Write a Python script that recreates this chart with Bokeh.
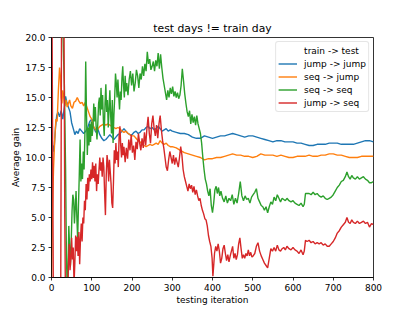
from bokeh.plotting import figure
from bokeh.models import Legend, LegendItem, FixedTicker, NumeralTickFormatter, Range1d
from bokeh.embed import file_html
from bokeh.resources import INLINE

title_text = "test days != train day"
x_label = "testing iteration"
y_label = "Average gain"
legend_title_entry = "train -> test"
series_names = ["jump -> jump", "seq -> jump", "seq -> seq", "jump -> seq"]
series_colors = ["#1f77b4", "#ff7f0e", "#2ca02c", "#d62728"]
x_ticks = [0, 100, 200, 300, 400, 500, 600, 700, 800]
y_ticks = [0.0, 2.5, 5.0, 7.5, 10.0, 12.5, 15.0, 17.5, 20.0]

# jump -> jump
jj_x = [0, 3, 6, 10, 13, 16, 20, 24, 28, 32, 35, 38, 42, 46, 50, 55, 58, 62, 66, 70, 75, 80, 85, 90, 95,
        100, 105, 110, 115, 120, 125, 130, 135, 140, 145, 150, 155, 160, 165, 170, 175, 180, 185, 190, 195,
        200, 205, 210, 215, 220, 225, 230, 235, 240, 245, 250, 255, 260, 265, 270, 275, 280, 285, 290, 295,
        300, 310, 320, 330, 340, 350, 360, 370, 380, 390, 400, 410, 420, 430, 440, 450, 460, 470, 480, 490,
        500, 510, 520, 530, 540, 550, 560, 570, 580, 590, 600, 610, 620, 630, 640, 650, 660, 670, 680, 690,
        700, 710, 720, 730, 740, 750, 760, 770, 780, 790, 800]
jj_y = [5.0, 11.0, 10.5, 12.5, 13.5, 13.8, 13.4, 13.9, 13.2, 14.2, 15.1, 14.6, 14.2, 13.8, 12.9, 12.3, 11.9, 12.2, 12.0, 12.4, 12.2, 12.0, 12.2, 12.5, 13.0,
        13.2, 12.5, 12.1, 12.4, 11.9, 11.6, 11.4, 11.5, 11.7, 11.9, 11.7, 11.5, 11.7, 11.9, 12.0, 12.2, 12.4, 12.2, 12.0, 11.9,
        11.9, 12.1, 12.2, 12.0, 12.1, 12.3, 12.3, 12.5, 12.6, 12.4, 12.5, 12.3, 12.4, 12.6, 12.4, 12.2, 12.3, 12.4, 12.2, 12.3,
        12.2, 12.1, 12.0, 12.0, 11.9, 11.7, 11.6, 11.6, 11.8, 11.7, 11.6, 11.7, 11.8, 11.8, 11.9, 12.0, 11.9, 11.8, 11.7, 11.8,
        11.8, 11.7, 11.6, 11.5, 11.4, 11.3, 11.4, 11.4, 11.3, 11.3, 11.3, 11.2, 11.2, 11.1, 11.0, 11.0, 11.1, 11.1, 11.1, 11.2,
        11.2, 11.2, 11.1, 11.1, 11.1, 11.1, 11.2, 11.3, 11.4, 11.4, 11.3]

# seq -> jump
sj_x = [0, 2, 5, 8, 11, 14, 17, 20, 22, 24, 26, 28, 30, 33, 36, 39, 42, 45, 48, 52, 56, 60, 64, 68, 72, 76, 80, 84, 88, 92, 96,
        100, 104, 108, 112, 116, 120, 125, 130, 135, 140, 145, 150, 155, 160, 165, 170, 175, 180, 185, 190, 195,
        200, 205, 210, 215, 220, 225, 230, 235, 240, 245, 250, 255, 260, 265, 270, 275, 280, 285, 290, 295,
        300, 310, 320, 330, 340, 350, 360, 370, 380, 390, 400, 410, 420, 430, 440, 450, 460, 470, 480, 490,
        500, 510, 520, 530, 540, 550, 560, 570, 580, 590, 600, 610, 620, 630, 640, 650, 660, 670, 680, 690,
        700, 710, 720, 730, 740, 750, 760, 770, 780, 790, 800]
sj_y = [0.0, 5.0, 9.0, 11.5, 13.2, 13.0, 15.5, 17.5, 16.8, 15.0, 14.5, 15.6, 15.2, 14.3, 14.8, 14.2, 14.5, 14.8, 14.3, 14.1, 14.6, 14.7, 15.0, 14.7, 14.5, 14.6, 14.3, 14.6, 14.2, 13.8, 13.4,
        13.2, 12.6, 12.4, 12.2, 12.4, 12.6, 12.7, 12.8, 12.7, 12.8, 12.7, 12.6, 12.5, 12.4, 12.5, 12.4, 12.2, 12.1, 12.2, 12.0, 11.9,
        11.8, 11.8, 11.6, 11.4, 11.3, 11.1, 11.0, 10.9, 11.0, 11.1, 11.0, 11.1, 11.2, 11.1, 11.4, 11.2, 11.1, 11.2, 11.0, 10.9,
        10.9, 10.8, 10.6, 10.4, 10.3, 10.2, 10.1, 10.0, 9.8, 9.9, 9.9, 10.0, 10.0, 10.1, 10.2, 10.3, 10.2, 10.2, 10.1, 10.1,
        10.0, 10.1, 10.3, 10.2, 10.2, 10.2, 10.1, 10.2, 10.1, 10.0, 10.0, 10.1, 10.1, 10.1, 10.2, 10.1, 10.1, 10.2, 10.2, 10.3,
        10.3, 10.2, 10.2, 10.1, 10.0, 10.0, 10.0, 10.1, 10.1, 10.1, 10.1]

# seq -> seq
ss_x = [0, 25, 30, 32, 35, 37, 39, 41, 43, 45, 47, 49, 51, 53, 55, 57, 59, 61, 63, 65, 67, 69, 71, 73, 75, 77, 79, 81, 83, 85, 87, 89,
        91, 93, 95, 97, 99, 101, 103, 105, 107, 109, 111, 113, 115, 117, 119, 121, 123, 125, 127, 129, 131, 133, 135, 137, 139,
        141, 143, 145, 147, 149, 151, 153, 155, 157, 159, 161, 163, 165, 167, 169, 171, 173, 175, 177, 179, 181, 183, 185, 187,
        190, 193, 196, 199, 202, 205, 208, 211, 214, 217, 220, 223, 226, 229, 232, 235, 238, 241, 244, 247, 250, 253, 256, 259,
        262, 265, 268, 271, 274, 277, 280, 283, 286, 289, 292, 295, 298, 301, 304, 307, 310, 313, 316, 319, 322, 325, 328, 331,
        334, 337, 340, 343, 346, 349, 352, 355, 358, 361, 364, 367, 370, 373, 376, 379, 382, 385, 388, 391, 394, 397, 400, 403,
        406, 409, 412, 415, 418, 421, 425, 429, 433, 437, 441, 445, 449, 453, 457, 461, 465, 469, 473, 477, 481, 485, 489, 493,
        497, 501, 505, 509, 513, 517, 521, 525, 529, 533, 537, 541, 545, 549, 553, 557, 561, 565, 569, 573, 577, 581, 585, 590,
        595, 600, 605, 610, 615, 620, 625, 628, 631, 635, 640, 645, 650, 655, 660, 665, 670, 675, 680, 685, 690, 695, 700, 705,
        710, 715, 720, 725, 730, 734, 738, 742, 746, 750, 755, 760, 765, 770, 775, 780, 785, 790, 795, 800]
ss_y = [30.0, 26.0, 18.2, 16.0, 9.0, 2.0, -1.0, 0.5, 4.3, 2.5, 1.0, 3.0, 5.5, 6.9, 6.5, 4.5, 5.8, 7.2, 5.0, 3.2, 6.0, 8.5, 11.5, 8.0, 9.5, 8.2, 10.5, 9.0, 12.0, 18.0, 13.5, 10.2,
        12.5, 11.0, 12.8, 11.3, 13.0, 11.8, 12.5, 14.5, 13.0, 14.2, 12.5, 11.5, 12.8, 14.5, 15.0, 13.5, 15.8, 14.0, 15.2, 13.0, 11.8, 14.5, 16.1, 13.8, 14.8,
        12.5, 14.0, 15.6, 13.5, 12.0, 14.8, 11.2, 13.5, 15.0, 17.0, 16.2, 15.0, 16.5, 15.2, 14.0, 15.5, 14.8, 16.6, 17.6, 16.0, 15.0, 16.8, 15.5, 16.2,
        15.2, 16.5, 17.2, 16.0, 17.0, 15.5, 16.2, 17.3, 16.8, 15.8, 17.0, 16.5, 17.6, 16.8, 17.8, 17.2, 18.8, 17.8, 18.2, 17.3, 17.6, 18.0, 17.2, 18.1,
        17.6, 18.7, 17.4, 18.6, 17.5, 16.6, 16.0, 15.4, 14.8, 15.6, 15.0, 15.8, 15.3, 15.9, 15.1, 15.5, 15.0, 15.4, 14.9, 15.2, 16.0, 17.4, 16.4, 15.3,
        14.5, 13.8, 13.4, 13.9, 12.8, 13.6, 12.9, 13.4, 12.7, 13.5, 12.8, 12.4, 12.0, 11.2, 10.0, 9.0, 8.2, 7.8, 7.2, 6.8, 7.4, 6.0, 5.4, 6.2,
        7.3, 7.6, 7.0, 7.5, 6.8, 7.2, 6.6, 6.3, 6.8, 6.2, 6.6, 6.4, 6.9, 6.1, 6.6, 6.2, 7.0, 8.0, 6.8, 6.4, 6.8, 6.5, 6.6, 6.2,
        6.7, 6.9, 7.1, 7.4, 6.6, 6.3, 6.0, 5.9, 5.6, 5.9, 5.4, 5.9, 6.3, 6.1, 6.7, 6.4, 6.9, 6.6, 6.3, 6.6, 6.5, 6.4, 6.6, 6.4,
        6.3, 6.4, 6.2, 6.1, 6.0, 6.2, 5.9, 6.1, 7.0, 7.0, 7.0, 6.9, 7.1, 6.9, 7.0, 6.8, 6.7, 6.8, 6.6, 6.5, 6.6, 6.7, 6.9, 7.2,
        7.5, 7.7, 8.0, 8.1, 8.4, 8.8, 8.4, 8.2, 8.5, 8.3, 8.2, 8.4, 8.2, 8.3, 8.4, 8.2, 8.1, 7.9, 7.9, 8.0]

# jump -> seq
js_x = [0, 3, 5, 20, 23, 25, 28, 31, 33, 35, 38, 40, 42, 44, 46, 48, 50, 52, 54, 56, 58, 60, 62, 64, 66, 68, 70, 72, 74, 76, 78, 80,
        82, 84, 86, 88, 90, 92, 94, 96, 98, 100, 102, 104, 106, 108, 110, 112, 114, 116, 118, 120, 122, 124, 126, 128, 130,
        132, 134, 136, 138, 140, 142, 144, 146, 148, 150, 152, 154, 156, 158, 160, 162, 164, 166, 168, 170, 172, 174, 176, 178,
        180, 183, 186, 189, 192, 195, 198, 201, 204, 207, 210, 213, 216, 219, 222, 225, 228, 231, 234, 237, 240, 243, 246, 249,
        252, 255, 258, 261, 264, 267, 270, 273, 276, 279, 282, 285, 288, 291, 294, 297, 300, 303, 306, 309, 312, 315, 318, 321,
        324, 327, 330, 333, 336, 339, 342, 345, 348, 351, 354, 357, 360, 363, 366, 369, 372, 375, 378, 381, 384, 387, 390, 393,
        396, 399, 401, 403, 405, 408, 411, 414, 417, 420, 423, 426, 429, 432, 435, 438, 441, 444, 447, 450, 453, 456, 459, 462,
        465, 468, 471, 474, 477, 480, 483, 486, 489, 492, 495, 498, 501, 505, 509, 513, 517, 521, 525, 529, 533, 537, 541, 545,
        549, 553, 557, 561, 565, 569, 573, 577, 581, 585, 590, 595, 600, 605, 610, 615, 620, 625, 628, 631, 635, 640, 645, 650,
        655, 660, 665, 670, 675, 680, 685, 690, 695, 700, 705, 710, 715, 720, 725, 730, 734, 738, 742, 746, 750, 755, 760, 765,
        770, 775, 780, 785, 790, 795, 800]
js_y = [30.0, 10.0, -5.0, -8.0, 0.0, 22.0, 25.0, 22.0, 5.0, -3.0, -4.0, -2.0, 1.0, 2.8, 0.6, 1.5, 3.3, 1.5, 2.5, -0.5, 1.2, 3.5, 2.2, 3.4, 1.8, 3.8, 1.1, 3.2, 4.5, 3.0, 5.0, 4.5,
        6.4, 5.6, 7.8, 6.5, 8.3, 7.2, 8.6, 8.0, 9.0, 8.2, 9.6, 8.3, 9.3, 8.0, 9.5, 7.2, 8.6, 7.8, 9.0, 10.0, 8.9, 9.6, 8.4, 10.0, 9.2,
        7.0, 5.2, 8.5, 10.2, 9.6, 8.0, 9.8, 8.8, 7.8, 6.2, 5.8, 8.0, 10.6, 9.5, 11.2, 9.8, 10.5, 9.2, 11.8, 12.6, 11.0, 10.0, 11.2, 10.2,
        10.9, 9.6, 10.8, 9.9, 11.5, 10.6, 11.9, 10.4, 11.0, 9.8, 11.3, 10.7, 12.0, 11.2, 10.6, 11.6, 10.8, 12.1, 11.0, 12.4, 13.4, 12.0, 11.2, 12.8,
        13.5, 12.4, 11.8, 12.7, 11.6, 12.8, 13.5, 12.3, 11.4, 10.8, 10.0, 9.2, 8.9, 9.8, 10.5, 10.0, 9.5, 10.2, 9.4, 10.0, 9.6, 9.2, 10.0, 10.9,
        10.2, 9.0, 8.4, 8.0, 7.6, 7.2, 7.8, 7.4, 7.7, 7.1, 7.6, 6.9, 7.3, 6.8, 6.4, 6.6, 6.0, 5.6, 5.3, 4.9, 4.8, 4.3, 3.5, 3.0,
        2.6, 1.6, 0.1, 1.0, 2.0, 2.6, 2.2, 2.8, 2.2, 1.2, 1.6, 2.4, 2.7, 2.0, 1.4, 1.9, 1.3, 1.8, 2.2, 2.6, 1.6, 2.0, 1.5, 1.9,
        2.8, 3.3, 2.4, 1.6, 1.9, 1.6, 2.0, 1.8, 2.3, 1.8, 2.1, 1.7, 1.8, 2.0, 2.6, 2.9, 2.2, 1.8, 1.5, 1.2, 1.0, 0.8, 1.6, 2.4,
        2.2, 2.5, 2.2, 2.7, 2.3, 2.2, 2.4, 2.5, 2.3, 2.6, 2.4, 2.3, 2.5, 2.3, 2.2, 2.0, 2.3, 1.9, 2.2, 3.1, 3.0, 3.1, 2.9, 3.0,
        2.8, 2.9, 2.8, 2.9, 2.7, 2.8, 2.6, 2.6, 2.8, 3.0, 3.3, 3.7, 3.9, 4.2, 4.4, 4.6, 5.0, 4.6, 4.5, 4.8, 4.6, 4.5, 4.7, 4.5,
        4.6, 4.7, 4.5, 4.6, 4.2, 4.5, 4.4]

FONT = "DejaVu Sans"

p = figure(width=415, height=311, output_backend="svg", toolbar_location=None,
           x_range=Range1d(0, 800), y_range=Range1d(0, 20),
           min_border_left=51, min_border_right=42, min_border_top=37, min_border_bottom=34)
p.title.text = title_text
p.title.align = "center"
p.title.text_font = FONT
p.title.text_font_size = "10.8px"
p.title.text_font_style = "normal"
p.title.text_color = "black"
p.title.standoff = 6

p.xgrid.visible = False
p.ygrid.visible = False
p.outline_line_color = "black"
p.outline_line_width = 0.8
p.background_fill_color = "white"
p.border_fill_color = "white"

for ax in (p.xaxis[0], p.yaxis[0]):
    ax.axis_line_color = "black"
    ax.axis_line_width = 0.8
    ax.major_tick_line_color = "black"
    ax.major_tick_line_width = 0.8
    ax.major_tick_out = 3
    ax.major_tick_in = 0
    ax.minor_tick_out = 0
    ax.minor_tick_in = 0
    ax.major_label_text_font = FONT
    ax.major_label_text_font_size = "9px"
    ax.major_label_text_color = "black"
    ax.major_label_standoff = 3
    ax.axis_label_text_font = FONT
    ax.axis_label_text_font_size = "9px"
    ax.axis_label_text_font_style = "normal"
    ax.axis_label_text_color = "black"
    ax.axis_label_standoff = 1

p.xaxis.axis_label = x_label
p.yaxis.axis_label = y_label
p.xaxis.ticker = FixedTicker(ticks=x_ticks)
p.yaxis.ticker = FixedTicker(ticks=y_ticks)
p.yaxis.formatter = NumeralTickFormatter(format="0.0")

dummy = p.line([], [], line_alpha=0)
xs = [jj_x, sj_x, ss_x, js_x]
ys = [jj_y, sj_y, ss_y, js_y]
items = [LegendItem(label=legend_title_entry, renderers=[dummy])]
for x, y, name, c in zip(xs, ys, series_names, series_colors):
    r = p.line(x, y, line_color=c, line_width=1.4)
    items.append(LegendItem(label=name, renderers=[r]))

legend = Legend(items=items, location="top_right")
legend.margin = 4
legend.padding = 2
legend.spacing = 0
legend.glyph_width = 19
legend.glyph_height = 13
legend.label_height = 13
legend.label_standoff = 7
legend.label_text_font = FONT
legend.label_text_font_size = "9px"
legend.label_text_color = "black"
legend.border_line_color = "#cccccc"
legend.border_line_width = 1
legend.background_fill_alpha = 0.8
legend.border_radius = 3
p.add_layout(legend, "center")

open("out.html", "w").write(file_html(p, INLINE))
